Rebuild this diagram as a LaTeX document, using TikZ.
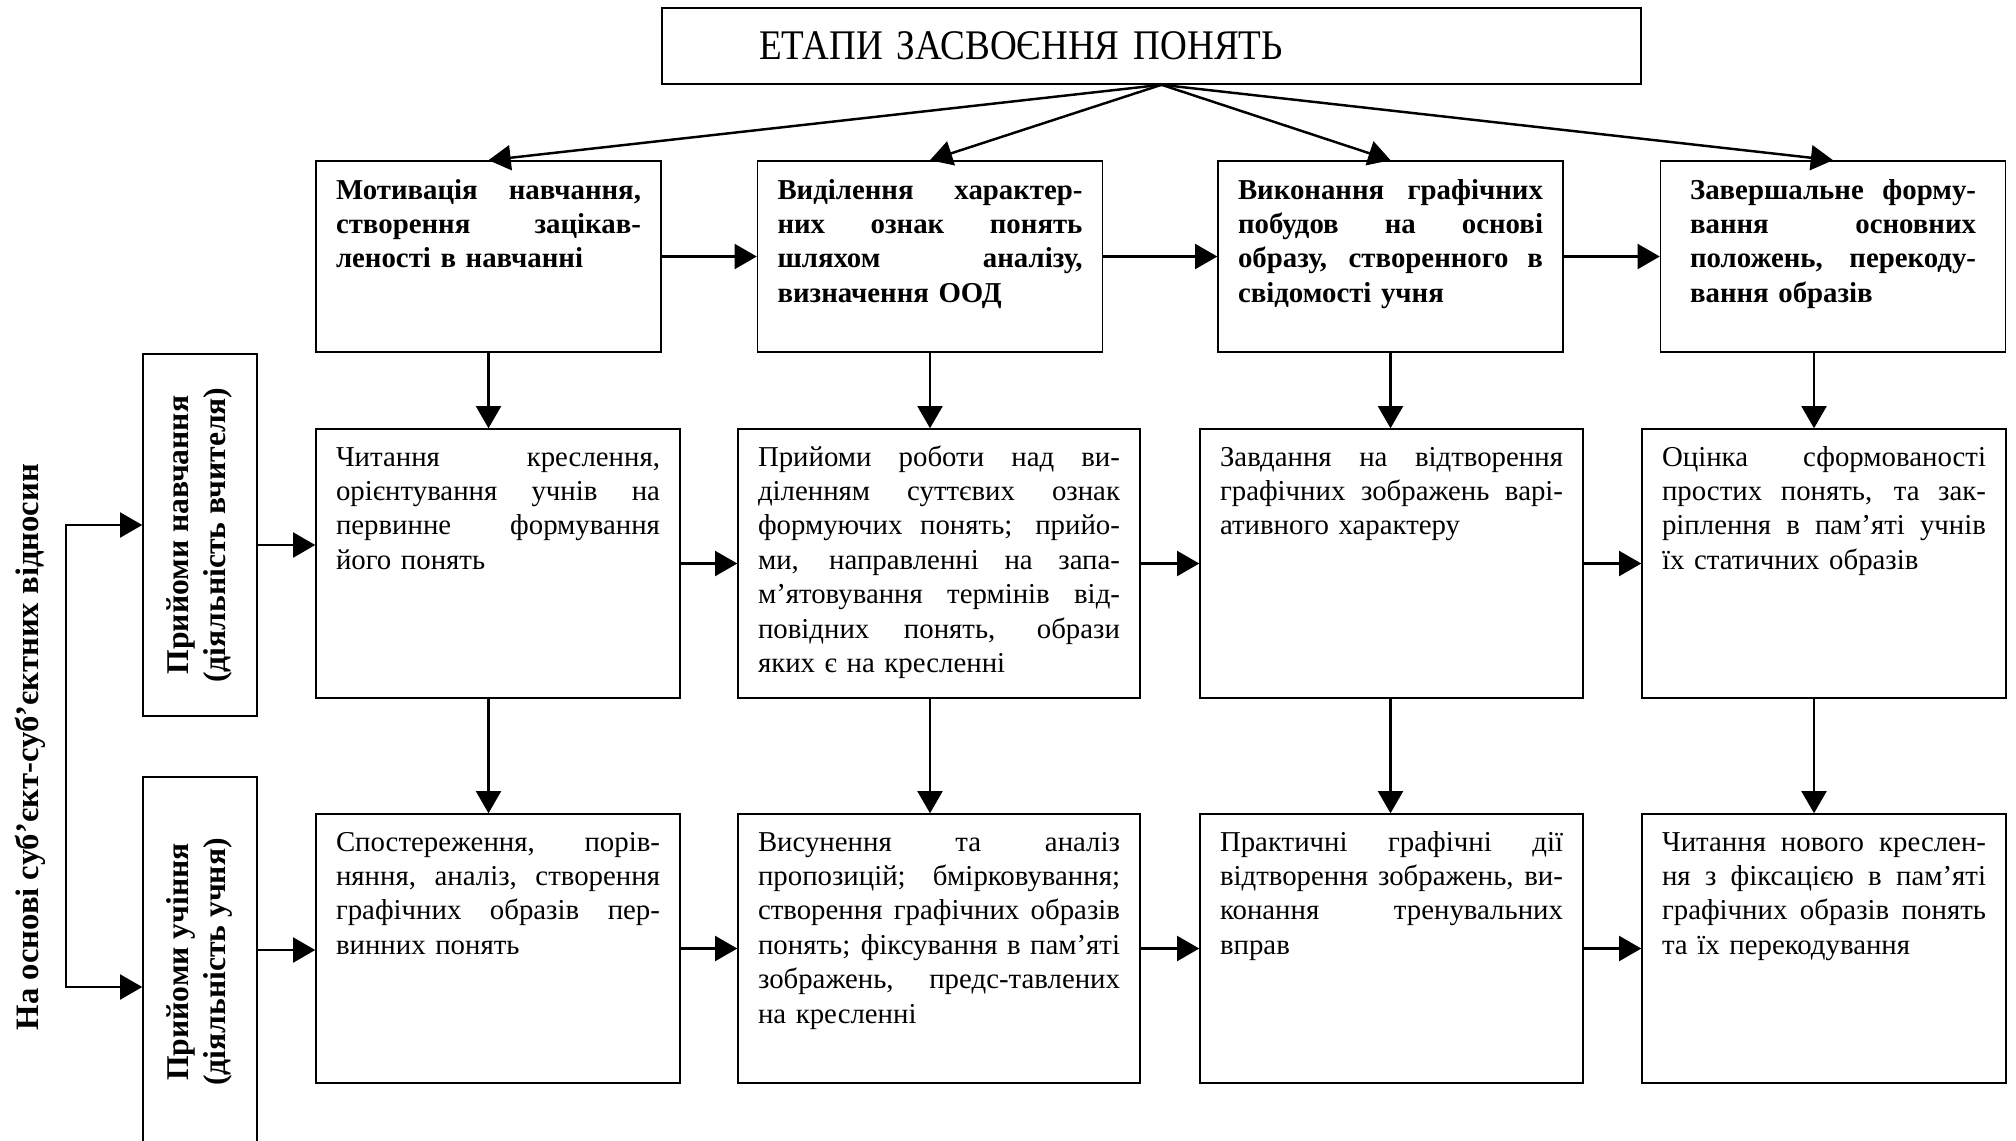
\documentclass[tikz,border=0pt]{standalone}
\usepackage{fontspec}
\setmainfont{Liberation Serif}
\newfontfamily\headfont{Liberation Serif}[FakeStretch=0.88]
\usepackage{graphicx}
\usetikzlibrary{arrows}
\tikzstyle{titlebox} = [rectangle, draw=black, line width=0.45pt,
                        minimum width=9.79cm, minimum height=0.76cm,
                        text width=7.85cm, inner xsep=0.97cm, align=left,
                        font=\headfont\fontsize{12}{14}\selectfont]
\tikzstyle{stagebox} = [rectangle, draw=black, line width=0.45pt,
                        text width=3.05cm, inner xsep=0.2cm, inner ysep=0pt,
                        text height=0.38cm, text depth=1.53cm, align=left,
                        font=\bfseries\fontsize{8.2}{9.8}\selectfont]
\tikzstyle{workbox} = [rectangle, draw=black, line width=0.45pt,
                       inner xsep=0.2cm, inner ysep=0pt,
                       text height=0.37cm, text depth=2.32cm, align=left,
                       font=\fontsize{8.2}{9.8}\selectfont]
\tikzstyle{sidebox} = [rectangle, draw=black, line width=0.45pt,
                       minimum width=1.14cm, inner sep=0pt,
                       font=\bfseries\fontsize{9}{10.5}\selectfont]
\tikzstyle{arrow} = [line width=0.7pt,->,>=triangle 60]
\newcommand{\jl}[1]{{\spaceskip=0.25em plus 1fil\relax\makebox[\hsize][s]{#1}}}
\newcommand{\sidetext}[2]{\rotatebox{90}{\begin{tabular}{@{}c@{}}#1\\#2\end{tabular}}}

\begin{document}
\begin{tikzpicture}
    \useasboundingbox (0,0) rectangle (20.16,-11.40);

    \node (title) [titlebox] at (11.515,-0.46) {ЕТАПИ ЗАСВОЄННЯ ПОНЯТЬ};

    \node (m1) [stagebox] at (4.885,-2.565) {\jl{Мотивація навчання,}\\\jl{створення зацікав-}\\леності в навчанні};
    \node (m2) [stagebox] at (9.30,-2.565) {\jl{Виділення характер-}\\\jl{них ознак понять}\\\jl{шляхом аналізу,}\\визначення ООД};
    \node (m3) [stagebox] at (13.905,-2.565) {\jl{Виконання графічних}\\\jl{побудов на основі}\\\jl{образу, створенного в}\\свідомості учня};
    \node (m4) [stagebox, text width=2.86cm, inner xsep=0.295cm] at (18.33,-2.565) {\jl{Завершальне форму-}\\\jl{вання основних}\\\jl{положень, перекоду-}\\вання образів};

    \node (t1) [workbox, text width=3.24cm] at (4.98,-5.635) {\jl{Читання креслення,}\\\jl{орієнтування учнів на}\\\jl{первинне формування}\\його понять};
    \node (t2) [workbox, text width=3.62cm] at (9.39,-5.635) {\jl{Прийоми роботи над ви-}\\\jl{діленням суттєвих ознак}\\\jl{формуючих понять; прийо-}\\\jl{ми, направленні на запа-}\\\jl{м’ятовування термінів від-}\\\jl{повідних понять, образи}\\яких є на кресленні};
    \node (t3) [workbox, text width=3.43cm] at (13.915,-5.635) {\jl{Завдання на відтворення}\\\jl{графічних зображень варі-}\\ативного характеру};
    \node (t4) [workbox, text width=3.24cm] at (18.24,-5.635) {\jl{Оцінка сформованості}\\\jl{простих понять, та зак-}\\\jl{ріплення в пам’яті учнів}\\їх статичних образів};

    \node (s1) [workbox, text width=3.24cm] at (4.98,-9.485) {\jl{Спостереження, порів-}\\\jl{няння, аналіз, створення}\\\jl{графічних образів пер-}\\винних понять};
    \node (s2) [workbox, text width=3.62cm] at (9.39,-9.485) {\jl{Висунення та аналіз}\\\jl{пропозицій; бмірковування;}\\\jl{створення графічних образів}\\\jl{понять; фіксування в пам’яті}\\\jl{зображень, предс-тавлених}\\на кресленні};
    \node (s3) [workbox, text width=3.43cm] at (13.915,-9.485) {\jl{Практичні графічні дії}\\\jl{відтворення зображень, ви-}\\\jl{конання тренувальних}\\вправ};
    \node (s4) [workbox, text width=3.24cm] at (18.24,-9.485) {\jl{Читання нового креслен-}\\\jl{ня з фіксацією в пам’яті}\\\jl{графічних образів понять}\\та їх перекодування};

    \node (teacher) [sidebox, minimum height=3.62cm] at (2.00,-5.35) {\sidetext{Прийоми навчання}{(діяльність вчителя)}};
    \node (student) [sidebox, minimum height=3.70cm] at (2.00,-9.62) {\sidetext{Прийоми учіння}{(діяльність учня)}};

    \node (basis) [rotate=90, font=\bfseries\fontsize{9.3}{11}\selectfont] at (0.30,-7.47) {На основі суб’єкт-суб’єктних відносин};

    \draw [arrow] ([xshift=1mm]title.south) -- (m1.north);
    \draw [arrow] ([xshift=1mm]title.south) -- (m2.north);
    \draw [arrow] ([xshift=1mm]title.south) -- (m3.north);
    \draw [arrow] ([xshift=1mm]title.south) -- (m4.north);

    \draw [arrow] (m1) -- (m2);
    \draw [arrow] (m2) -- (m3);
    \draw [arrow] (m3) -- (m4);
    \draw [arrow] (t1) -- (t2);
    \draw [arrow] (t2) -- (t3);
    \draw [arrow] (t3) -- (t4);
    \draw [arrow] (s1) -- (s2);
    \draw [arrow] (s2) -- (s3);
    \draw [arrow] (s3) -- (s4);

    \draw [arrow] (m1.south) -- (m1.south |- t1.north);
    \draw [arrow] (m2.south) -- (m2.south |- t2.north);
    \draw [arrow] (m3.south) -- (m3.south |- t3.north);
    \draw [arrow] ([xshift=-1.9mm]m4.south) -- ([xshift=-1.9mm]m4.south |- t4.north);
    \draw [arrow] (m1.south |- t1.south) -- (m1.south |- s1.north);
    \draw [arrow] (m2.south |- t2.south) -- (m2.south |- s2.north);
    \draw [arrow] (m3.south |- t3.south) -- (m3.south |- s3.north);
    \draw [arrow] ([xshift=-1.9mm]m4.south |- t4.south) -- ([xshift=-1.9mm]m4.south |- s4.north);

    \draw [arrow] ([yshift=-1mm]teacher.east) -- ([yshift=-1mm]teacher.east -| t1.west);
    \draw [arrow] ([yshift=1.2mm]student.east) -- ([yshift=1.2mm]student.east -| s1.west);
    \draw [arrow, <->] ([yshift=1mm]teacher.west) -- ++(-0.76,0) |- ([yshift=-2.5mm]student.west);

\end{tikzpicture}
\end{document}
